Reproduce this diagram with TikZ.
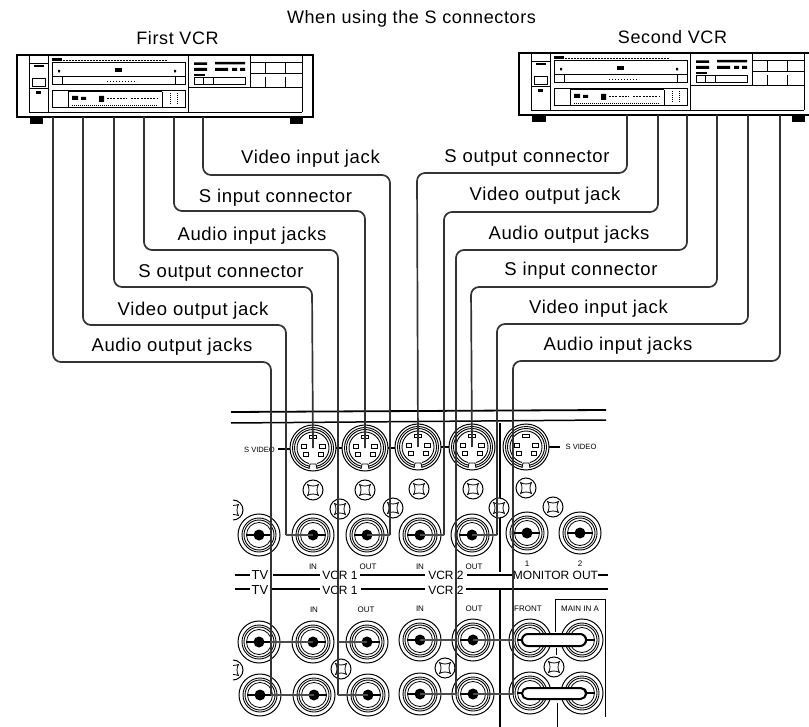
\documentclass[tikz,border=0pt]{standalone}
\usepackage{fontspec}
\setmainfont{Liberation Sans}
\newfontfamily\lab[LetterSpace=3.5]{Liberation Sans}
\tikzset{
  cable/.style={draw=black!80,line width=1.7pt,rounded corners=8pt},
  branch/.style={draw=black!70,line width=1.5pt},
  big/.style={anchor=base,inner sep=0pt,font=\lab\fontsize{18.5}{20}\selectfont},
  title/.style={anchor=base,inner sep=0pt,font=\lab\fontsize{18}{20}\selectfont},
  mid/.style={anchor=base,inner sep=0pt,font=\fontsize{12}{13}\selectfont},
  tiny/.style={anchor=base,inner sep=0pt,font=\fontsize{8}{9}\selectfont},
  sv/.style={anchor=base,inner sep=0pt,font=\fontsize{7.6}{9}\selectfont},
  rail/.style={line width=1.4pt,black},
  rca/.pic={
    \fill[white] (0,0) circle (21pt);
    \draw[line width=1pt] (0,0) circle (21pt);
    \draw[line width=.9pt] (0,0) circle (17pt);
    \draw[line width=.9pt] (0,0) circle (15pt);
    \draw[line width=.8pt] (0,0) circle (12.5pt);
    \draw[line width=1.6pt] (-13,0) -- (13,0);
    \fill (0,0) circle (5.5pt);
  },
  sjk/.pic={
    \fill[white] (0,0) circle (23pt);
    \foreach \r/\w in {23/1,20.5/.9,18.5/.9,16/.9}{\draw[line width=\w pt] (0,0) circle (\r pt);}
    \fill[white] (-4,15) rectangle (4,22);
    \draw[line width=.8pt] (-4,21) -- (-3,16) -- (3,16) -- (4,21);
    \draw[line width=.8pt,fill=white] (-3.5,-13) rectangle (3.5,-9.5);
    \draw[line width=.8pt,fill=white] (-12,-4) rectangle (-6.5,0);
    \draw[line width=.8pt,fill=white] (6.5,-4) rectangle (12,0);
    \draw[line width=.8pt,fill=white] (-10,4) rectangle (-5,8);
    \draw[line width=.8pt,fill=white] (5,4) rectangle (10,8);
  },
  scr/.pic={
    \fill[white] (0,0) circle (10pt);
    \draw[line width=1pt] (0,0) circle (10pt);
    \draw[line width=.8pt] (-5.5,-5.5) .. controls (-2,-3.5) and (2,-3.5) .. (5.5,-5.5)
      .. controls (3.5,-2) and (3.5,2) .. (5.5,5.5)
      .. controls (2,3.5) and (-2,3.5) .. (-5.5,5.5)
      .. controls (-3.5,2) and (-3.5,-2) .. (-5.5,-5.5) -- cycle;
  },
  halfscr/.pic={
    \draw[line width=1pt] (0,-10) arc (-90:90:10);
    \draw[line width=.8pt] (0,-4.5) .. controls (2,-4.5) and (4,-5) .. (5.5,-5.5)
      .. controls (3.5,-2) and (3.5,2) .. (5.5,5.5) .. controls (4,5) and (2,4.5) .. (0,4.5);
  },
  vcrbody/.pic={
    \draw[line width=1.2pt] (0,0) rectangle (296,62);
    \draw[line width=2.2pt] (0,62) -- (296,62);
    \draw[line width=.7pt] (12,1) -- (12,57) (31,1) -- (31,57) (12,57) -- (285,57);
    \draw[line width=.7pt] (12,8) -- (31,8) (12,33) -- (31,33) (31,1)--(31,57);
    \fill (17,10.5) rectangle (27,12);
    \draw[line width=1pt] (15,24) rectangle (28,31.5);
    \fill (19,36) rectangle (24,39);
    \fill (35,3) rectangle (45,6.5);
    \draw[line width=.7pt,dash pattern=on 2pt off 1pt] (46,5) -- (150,5);
    \draw[line width=.8pt] (35,7.7) rectangle (168,29) (35,21.7) -- (168,21.7) (45,21.7) -- (45,29) (158,21.7) -- (158,29);
    \fill (98,13) rectangle (105,17);
    \fill (41,15) rectangle (43,17.5) (157,15) rectangle (159,17.5);
    \draw[line width=.5pt,dash pattern=on 1pt off 2pt] (90,26) -- (120,26);
    \draw[line width=.8pt] (35,35) rectangle (168,52);
    \fill (51,35.5) rectangle (145,37.5);
    \draw[line width=.8pt] (51,37) -- (51,52) (51,52) -- (145,52) (145,37) -- (145,52);
    \fill (55,41) rectangle (61,45) (64,42) rectangle (69,45) (82,41) rectangle (87,47);
    \draw[line width=1pt,dash pattern=on 2pt off 1.2pt] (90,44) -- (110,44) (114,44) -- (140,44);
    \draw[line width=.5pt,dash pattern=on 1pt off 1pt] (55,50) -- (140,50) (153,38) -- (153,50) (160,38) -- (160,50);
    \draw[line width=.8pt] (171,1) -- (171,57) (171,32) -- (285,32) (285,1) -- (285,57);
    \draw[line width=.7pt] (233,1) -- (233,32) (233,7) -- (285,7) (233,18) -- (285,18) (248,7) -- (248,18) (268,7) -- (268,18) (248,22) -- (248,32) (268,22) -- (268,32);
    \fill (177,7.5) rectangle (190,10) (177,13) rectangle (190,16) (198,7) rectangle (228,9.5) (198,13) rectangle (211,16) (215,13) rectangle (220,16) (223,13) rectangle (228,16);
    \draw[line width=.8pt] (177,22) rectangle (228,29) (186,22) -- (186,29) (196,22) -- (196,29);
    \fill (177,19) rectangle (188,21.5);
  }
}
\begin{document}
\begin{tikzpicture}[x=1pt,y=-1pt]
\useasboundingbox[fill=white] (0,0) rectangle (809,727);

% titles
\node[title] (ttl) at (411.5,24) {When using the S connectors};
\node[title] (tfirst) at (177.5,45) {First VCR};
\node[title] (tsecond) at (672.5,44) {Second VCR};

% VCRs
\pic at (17,55) {vcrbody};
\begin{scope}[shift={(519,53)},xscale=.973]
  \pic at (0,0) {vcrbody};
\end{scope}
\foreach \fx/\fy/\fw in {30/118/13,290/118/13,532/116/14,792/116/13}
  \fill (\fx,\fy) rectangle ++(\fw,6);

% panel rails
\draw[line width=1.8pt] (231,412) -- (606,410);
\draw[line width=1.5pt] (231,423) -- (606,420);
\draw[line width=1.8pt] (500,423) -- (500,572) (500,590) -- (500,727);
\draw[line width=.9pt] (555,599) -- (605,599) -- (605,717);
\draw[line width=.9pt] (555,599) -- (555,632) (556,648) -- (556,655) (557,703) -- (557,727);

% tv / vcr strips
\draw[rail] (235,575) -- (250,575) (273,575) -- (320,575) (360,575) -- (425,575) (467,575) -- (513,575) (598,575) -- (608,575);
\draw[rail] (235,589) -- (250,589) (272,589) -- (320,589) (361,589) -- (425,589) (466,589) -- (608,589);
\node[mid] (tv1) at (260,579.5) {\fontsize{13}{14}\selectfont TV};
\node[mid] (tv2) at (260,594) {\fontsize{13}{14}\selectfont TV};
\node[mid] (va1) at (340,579.5) {VCR 1};
\node[mid] (va2) at (340,594) {VCR 1};
\node[mid] (vb1) at (446,579.5) {VCR 2};
\node[mid] (vb2) at (446,594) {VCR 2};
\node[mid] (mon) at (555.5,579) {MONITOR OUT};
\node[tiny] (n1) at (527,566) {1};
\node[tiny] (n2) at (580,566) {2};
\node[tiny] (i1) at (313,569) {IN};
\node[tiny] (o1) at (368,569) {OUT};
\node[tiny] (i2) at (420,569) {IN};
\node[tiny] (o2) at (474,569) {OUT};
\node[tiny] (i3) at (314,612) {IN};
\node[tiny] (o3) at (366,612) {OUT};
\node[tiny] (i4) at (420,611) {IN};
\node[tiny] (o4) at (474,611) {OUT};
\node[tiny] (fr) at (528,611) {FRONT};
\node[tiny] (mn) at (580,611) {MAIN IN A};

% jacks
\foreach \n/\x/\y in {sa/313/448,sb/365/448,sc/418/447,sd/472/447,se/526/447}{
  \coordinate (\n) at (\x,\y);
  \pic at (\n) {sjk};
}
\foreach \n/\x/\y in {ra/259/535,rb/313/535,rc/367/535,rd/420/535,re/472/535,rf/527/533,rg/580/533,
  ma/259/642,mb/313/642,mc/367/642,md/420/640,me/473/640,mf/530/640,mg/582/640,
  la/260/695,lb/314/695,lc/368/695,ld/420/694,le/473/694,lf/530/693,lg/582/693}{
  \coordinate (\n) at (\x,\y);
  \pic at (\n) {rca};
}
\foreach \x/\y in {313/490,365/490,419/489,473/489,526/488,340/509,393/508,499/508,553/507,341/669,445/668,554/667}
  \pic at (\x,\y) {scr};
\pic at (233,510) {halfscr};
\pic at (233,670) {halfscr};

% S VIDEO tags
\node[sv] (svl) at (259.5,452) {S VIDEO};
\node[sv] (svr) at (581,449) {S VIDEO};
\draw[line width=1.2pt] (278,449) -- (290,449);
\draw[line width=1.2pt] (549,447) -- (560,447);
\draw[line width=1.2pt] (336,448) -- (342,448) (388,448) -- (395,448) (441,447) -- (449,447);

% pills
\draw[line width=2pt,fill=white,rounded corners=6pt] (522,634) rectangle (586,646);
\draw[line width=2pt,fill=white,rounded corners=5.5pt] (522,688) rectangle (586,699);

% labels
\node[big] (l1) at (310.5,164) {Video input jack};
\node[big] (l2) at (275.5,203) {S input connector};
\node[big] (l3) at (252,241) {Audio input jacks};
\node[big] (l4) at (221,278) {S output connector};
\node[big] (l5) at (193,316) {Video output jack};
\node[big] (l6) at (172,352) {Audio output jacks};
\node[big] (r1) at (527,163) {S output connector};
\node[big] (r2) at (545,201) {Video output jack};
\node[big] (r3) at (569,240) {Audio output jacks};
\node[big] (r4) at (581,276) {S input connector};
\node[big] (r5) at (598.5,314) {Video input jack};
\node[big] (r6) at (618,351) {Audio input jacks};

% ports
\foreach \n/\x in {pa/53,pb/83,pc/114,pd/144,pe/174,pf/203}
  \coordinate (\n) at (\x,117);
\foreach \n/\x in {qa/627,qb/658,qc/687,qd/717,qe/748,qf/780}
  \coordinate (\n) at (\x,115);

% cables
\coordinate (ca) at (271,362);
\coordinate (ea) at (271,695);
\draw[cable] (pa) |- (ca) -- (ea);
\draw[branch] (ma -| ea) -- (mb);
\draw[branch] (ea) -- (lb);
\coordinate (cb) at (286,325);
\coordinate (eb) at (286,535);
\draw[cable] (pb) |- (cb) -- (eb);
\draw[branch] (eb) -- (rb);
\coordinate (cc) at (312,287);
\draw[cable] (pc) |- (cc) -- (sa);
\coordinate (cd) at (338,250);
\coordinate (ed) at (338,695);
\draw[cable] (pd) |- (cd) -- (ed);
\draw[branch] (mc -| ed) -- (mc);
\draw[branch] (ed) -- (lc);
\coordinate (ce) at (365,211);
\draw[cable] (pe) |- (ce) -- (sb);
\coordinate (cf) at (390,175);
\coordinate (ef) at (390,535);
\draw[cable] (pf) |- (cf) -- (ef);
\draw[branch] (ef) -- (rc);

\coordinate (da) at (417,173);
\draw[cable] (qa) |- (da) -- (sc);
\coordinate (db) at (444,212);
\coordinate (fb) at (444,535);
\draw[cable] (qb) |- (db) -- (fb);
\draw[branch] (fb) -- (rd);
\coordinate (dc) at (456,250);
\coordinate (fc) at (456,694);
\draw[cable] (qc) |- (dc) -- (fc);
\draw[branch] (md -| fc) -- (md);
\draw[branch] (fc) -- (ld);
\coordinate (dd) at (471,287);
\draw[cable] (qd) |- (dd) -- (sd);
\coordinate (de) at (497,324);
\coordinate (fe) at (497,535);
\draw[cable] (qe) |- (de) -- (fe);
\draw[branch] (fe) -- (re);
\coordinate (df) at (513,361);
\coordinate (ff) at (513,694);
\draw[cable] (qf) |- (df) -- (ff);
\draw[branch] (me -| ff) -- (me);
\draw[branch] (ff) -- (le);
\end{tikzpicture}
\end{document}
